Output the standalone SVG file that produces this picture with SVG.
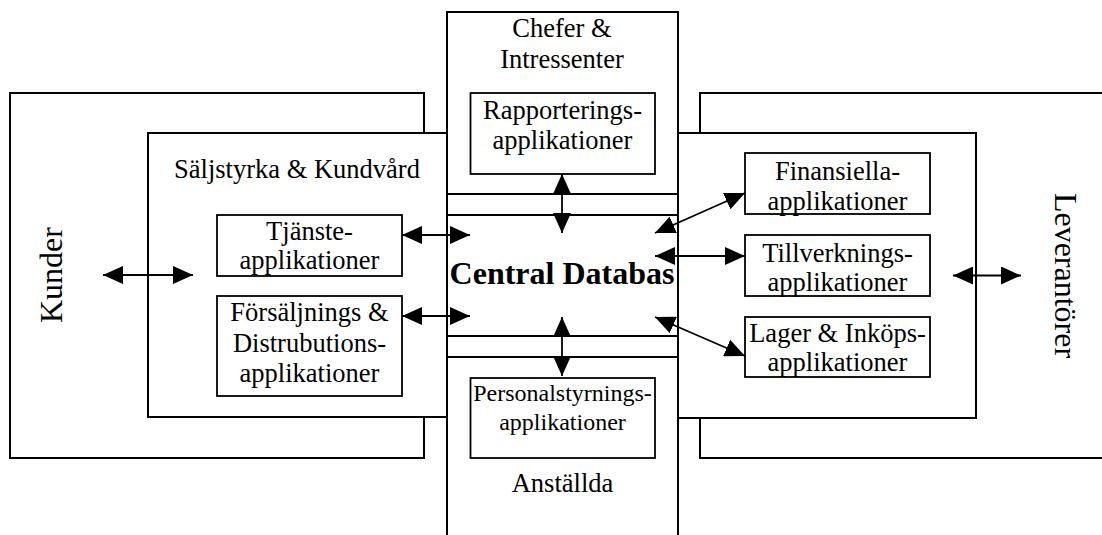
<svg xmlns="http://www.w3.org/2000/svg" width="1102" height="535" viewBox="0 0 1102 535">
  <style>
    .frame { fill: #ffffff; stroke: #000000; stroke-width: 2; }
    .box { fill: #ffffff; stroke: #000000; stroke-width: 1.8; }
    .lbl { font-family: "Liberation Serif", "Times New Roman", serif; font-size: 26.5px; fill: #000000; text-anchor: middle; }
    .small { font-size: 24px; }
    .big { font-size: 32px; }
    .bold { font-weight: bold; }
    .conn { stroke: #000000; stroke-width: 1.8; fill: none; marker-start: url(#head); marker-end: url(#head); }
  </style>
  <defs>
    <marker id="head" markerUnits="userSpaceOnUse" markerWidth="20" markerHeight="18" refX="20" refY="9" orient="auto-start-reverse">
      <path d="M0,0 L20,9 L0,18 Z" fill="#000000"/>
    </marker>
  </defs>
  <rect width="1102" height="535" fill="#ffffff"/>

  <!-- outer environments -->
  <g id="kunder">
    <rect class="frame" x="10" y="93" width="414" height="365"/>
    <text class="lbl big" transform="translate(62,275) rotate(-90)">Kunder</text>
  </g>
  <g id="leverantorer">
    <rect class="frame" x="700" y="93" width="420" height="365"/>
    <text class="lbl big" transform="translate(1055,275.5) rotate(90)">Leverantörer</text>
  </g>

  <!-- functional areas -->
  <g id="saljstyrka">
    <rect class="frame" x="148" y="133" width="299" height="284"/>
    <text class="lbl" x="297" y="178">Säljstyrka &amp; Kundvård</text>
  </g>
  <g id="produktion">
    <rect class="frame" x="678" y="133" width="298" height="285"/>
  </g>
  <g id="chefer">
    <rect class="frame" x="447" y="12" width="231" height="182"/>
    <text class="lbl" x="562" y="37">Chefer &amp;</text>
    <text class="lbl" x="562" y="68">Intressenter</text>
  </g>
  <g id="central-databas">
    <rect class="frame" x="447" y="215" width="231" height="121"/>
    <text class="lbl big bold" x="562" y="284">Central Databas</text>
  </g>
  <g id="anstallda">
    <rect class="frame" x="447" y="357" width="231" height="200"/>
    <text class="lbl" x="562.5" y="492">Anställda</text>
  </g>

  <!-- application modules -->
  <g id="rapportering">
    <rect class="box" x="470.5" y="93" width="184.5" height="81"/>
    <text class="lbl" x="562.5" y="119">Rapporterings-</text>
    <text class="lbl" x="562.5" y="148.5">applikationer</text>
  </g>
  <g id="personalstyrning">
    <rect class="box" x="470.5" y="378" width="184.5" height="80"/>
    <text class="lbl small" x="562.5" y="401">Personalstyrnings-</text>
    <text class="lbl small" x="562.5" y="430">applikationer</text>
  </g>
  <g id="tjanste">
    <rect class="box" x="217" y="215" width="185" height="61"/>
    <text class="lbl" x="309.5" y="240">Tjänste-</text>
    <text class="lbl" x="309.5" y="269">applikationer</text>
  </g>
  <g id="forsaljning">
    <rect class="box" x="217" y="296" width="185" height="100"/>
    <text class="lbl" x="309.5" y="321">Försäljnings &amp;</text>
    <text class="lbl" x="309.5" y="351.5">Distrubutions-</text>
    <text class="lbl" x="309.5" y="382">applikationer</text>
  </g>
  <g id="finansiella">
    <rect class="box" x="745" y="153" width="185" height="61"/>
    <text class="lbl" x="837.5" y="179.5">Finansiella-</text>
    <text class="lbl" x="837.5" y="209.5">applikationer</text>
  </g>
  <g id="tillverkning">
    <rect class="box" x="745" y="235" width="185" height="61"/>
    <text class="lbl" x="837.5" y="261.5">Tillverknings-</text>
    <text class="lbl" x="837.5" y="291">applikationer</text>
  </g>
  <g id="lager">
    <rect class="box" x="745" y="317" width="185" height="60"/>
    <text class="lbl" x="837.5" y="342">Lager &amp; Inköps-</text>
    <text class="lbl" x="837.5" y="371">applikationer</text>
  </g>

  <!-- two-way data flows -->
  <g id="connectors">
    <line class="conn" x1="103" y1="275" x2="193" y2="275"/>
    <line class="conn" x1="953" y1="275.5" x2="1021" y2="275.5"/>
    <line class="conn" x1="402" y1="235" x2="470" y2="235"/>
    <line class="conn" x1="402" y1="316" x2="470" y2="316"/>
    <line class="conn" x1="562" y1="174" x2="562" y2="233"/>
    <line class="conn" x1="562" y1="317" x2="562" y2="376"/>
    <line class="conn" x1="655" y1="233" x2="745" y2="193"/>
    <line class="conn" x1="655" y1="256" x2="745" y2="256"/>
    <line class="conn" x1="655" y1="317" x2="745" y2="356"/>
  </g>
</svg>
